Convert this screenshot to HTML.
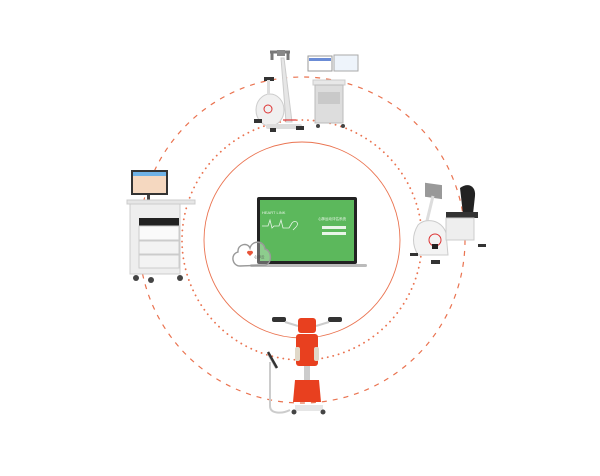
<!DOCTYPE html>
<html><head><meta charset="utf-8"><style>
html,body{margin:0;padding:0;background:#fff;}
svg{display:block;}
</style></head><body>
<svg width="600" height="476" viewBox="0 0 600 476" xmlns="http://www.w3.org/2000/svg">
<rect width="600" height="476" fill="#fff"/>
<!-- circles -->
<circle cx="302" cy="240" r="163" fill="none" stroke="#ea7350" stroke-width="1.2" stroke-dasharray="5 6"/>
<circle cx="302" cy="240" r="120" fill="none" stroke="#ea7350" stroke-width="1.8" stroke-dasharray="0.1 5.5" stroke-linecap="round"/>
<circle cx="302" cy="240" r="98" fill="none" stroke="#ea7350" stroke-width="0.9"/>

<!-- laptop -->
<rect x="257" y="197" width="100" height="67" rx="2" fill="#222"/>
<rect x="260" y="200" width="94" height="61" fill="#5cb85c"/>
<path d="M262 226 h6 l2 -6 l2 8 l2 -2 h5 l2 -6 l2 8 h6 l3 -5 c3 -4 8 0 4 4 l-3 3" fill="none" stroke="#e8f5e8" stroke-width="0.8"/>
<text x="262" y="214" font-family="Liberation Sans, sans-serif" font-size="4" fill="#e8f5e8">HEART LINK</text>
<text x="318" y="220" font-family="Liberation Sans, sans-serif" font-size="3.5" fill="#e8f5e8">心肺运动评估系统</text>
<rect x="322" y="226" width="24" height="3" fill="#e8f5e8"/>
<rect x="322" y="232" width="24" height="3" fill="#e8f5e8"/>
<rect x="250" y="264" width="117" height="3" rx="1.5" fill="#bbb"/>
<!-- cloud -->
<path d="M240 266 c-8 0 -10 -12 -2 -14 c-1 -8 10 -10 12 -4 c2 -8 14 -8 15 1 c6 1 8 13 1 16 z" fill="rgba(255,255,255,0.3)" stroke="#999" stroke-width="1.4"/>
<path d="M250 256 l-3 -3 a2 2 0 0 1 3 -2 a2 2 0 0 1 3 2 z" fill="#e8553a"/>
<text x="254" y="258" font-family="Liberation Sans, 'Noto Sans CJK SC', sans-serif" font-size="3.5" fill="#555">心肺云</text>

<!-- top: bike -->
<path d="M270 52 h20 M272 52 v8 M288 52 v8" stroke="#777" stroke-width="3" fill="none"/>
<rect x="277" y="50" width="8" height="6" fill="#888"/>
<path d="M281 58 L286 122 h6 L284 58 z" fill="#e6e6e6" stroke="#ccc"/>
<ellipse cx="270" cy="110" rx="14" ry="16" fill="#f0f0f0" stroke="#ccc"/>
<rect x="264" y="77" width="10" height="4" fill="#333"/>
<rect x="267" y="80" width="3" height="15" fill="#ddd"/>
<circle cx="268" cy="109" r="4" fill="none" stroke="#d33"/>
<rect x="266" y="124" width="36" height="5" rx="2" fill="#ddd"/>
<rect x="270" y="128" width="6" height="4" fill="#333"/><rect x="296" y="126" width="8" height="4" fill="#333"/>
<rect x="254" y="119" width="8" height="4" fill="#333"/>
<line x1="283" y1="120" x2="296" y2="120" stroke="#d33" stroke-width="1.2"/>
<!-- top: cart -->
<rect x="308" y="56" width="24" height="15" fill="#fff" stroke="#999"/>
<rect x="309" y="58" width="22" height="3" fill="#6b8cd6"/>
<rect x="334" y="55" width="24" height="16" fill="#eef4fb" stroke="#aaa"/>
<rect x="313" y="80" width="32" height="5" fill="#e8e8e8" stroke="#ccc"/>
<rect x="315" y="85" width="28" height="38" fill="#ddd" stroke="#bbb"/>
<rect x="318" y="92" width="22" height="12" fill="#c9c9c9"/>
<circle cx="318" cy="126" r="2" fill="#444"/><circle cx="343" cy="126" r="2" fill="#444"/>

<!-- left cart -->
<rect x="131" y="170" width="37" height="25" fill="#333"/>
<rect x="133" y="172" width="33" height="21" fill="#f5d8c0"/>
<rect x="133" y="172" width="33" height="4" fill="#6fb2e6"/>
<rect x="147" y="195" width="3" height="5" fill="#444"/>
<rect x="127" y="200" width="68" height="4" fill="#e6e6e6" stroke="#ccc"/>
<rect x="130" y="204" width="50" height="70" fill="#eeeeee" stroke="#ccc"/>
<rect x="139" y="218" width="40" height="8" fill="#222"/>
<rect x="139" y="226" width="40" height="14" fill="#fafafa" stroke="#ccc"/>
<rect x="139" y="241" width="40" height="13" fill="#f3f3f3" stroke="#ccc"/>
<rect x="139" y="255" width="40" height="13" fill="#f3f3f3" stroke="#ccc"/>
<circle cx="136" cy="278" r="3" fill="#444"/><circle cx="151" cy="280" r="3" fill="#444"/><circle cx="180" cy="278" r="3" fill="#444"/>

<!-- right recumbent -->
<rect x="425" y="183" width="17" height="14" fill="#999" transform="skewY(8) translate(0,-60)"/>
<line x1="433" y1="196" x2="426" y2="225" stroke="#ddd" stroke-width="3"/>
<path d="M460 188 c8 -6 16 -2 15 8 l-2 18 h-10 z" fill="#222"/>
<rect x="446" y="212" width="32" height="6" fill="#333"/>
<path d="M418 225 c8 -8 24 -5 28 8 l2 22 h-30 c-6 -10 -6 -20 0 -30z" fill="#f3f3f3" stroke="#ccc"/>
<rect x="446" y="218" width="28" height="22" fill="#eee" stroke="#ccc"/>
<circle cx="435" cy="240" r="6" fill="none" stroke="#d33"/>
<rect x="432" y="244" width="6" height="5" fill="#222"/>
<rect x="410" y="253" width="8" height="3" fill="#333"/><rect x="431" y="260" width="9" height="4" fill="#333"/><rect x="478" y="244" width="8" height="3" fill="#333"/>

<!-- bottom red chair -->
<rect x="272" y="317" width="14" height="5" rx="2" fill="#333"/>
<rect x="328" y="317" width="14" height="5" rx="2" fill="#333"/>
<line x1="285" y1="322" x2="298" y2="326" stroke="#ccc" stroke-width="2"/>
<line x1="329" y1="322" x2="316" y2="326" stroke="#ccc" stroke-width="2"/>
<rect x="298" y="318" width="18" height="15" rx="3" fill="#e8401f"/>
<rect x="296" y="334" width="22" height="32" rx="3" fill="#e8401f"/>
<rect x="295" y="347" width="5" height="14" rx="2" fill="#e0d8c8"/><rect x="314" y="347" width="5" height="14" rx="2" fill="#e0d8c8"/>
<path d="M295 380 h24 l2 22 h-28 z" fill="#e8401f"/>
<rect x="304" y="366" width="6" height="14" fill="#ccc"/>
<rect x="295" y="405" width="28" height="6" fill="#e6e6e6"/>
<circle cx="294" cy="412" r="2.5" fill="#444"/><circle cx="323" cy="412" r="2.5" fill="#444"/>
<path d="M268 354 l8 14 M270 362 v44 c0 8 12 8 20 4" fill="none" stroke="#ccc" stroke-width="2"/>
<path d="M268 352 l9 16" stroke="#333" stroke-width="2.5"/>
</svg>
</body></html>
